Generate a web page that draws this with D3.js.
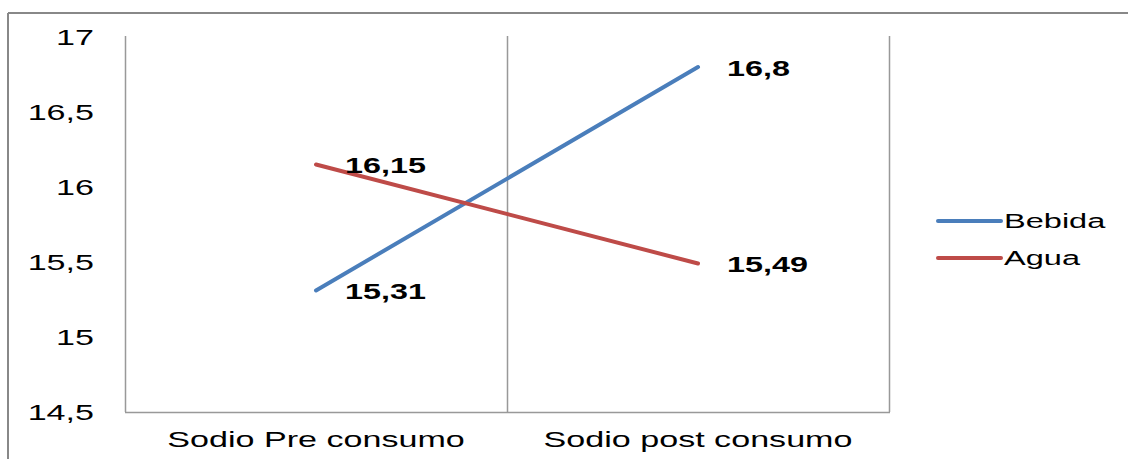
<!DOCTYPE html>
<html>
<head>
<meta charset="utf-8">
<script src="https://cdn.jsdelivr.net/npm/d3@7"></script>
<style>
html,body{margin:0;padding:0;background:#fff;}
svg{display:block;}
</style>
</head>
<body>
<svg id="chart" width="1128" height="459"></svg>
<script>
const categories = ["Sodio Pre consumo", "Sodio post consumo"];
const seriesNames = ["Bebida", "Agua"];
const bebidaValues = [15.31, 16.8];
const aguaValues = [16.15, 15.49];
const yTicks = [14.5, 15, 15.5, 16, 16.5, 17];
const yTickLabels = ["14,5", "15", "15,5", "16", "16,5", "17"];
const colors = ["#4a7ebb", "#be4b48"];

const FONT = "Liberation Sans, Arial, sans-serif";
const SX = 1.55;   // horizontal stretch of the reference text
const SXB = 1.47;

const svg = d3.select("#chart");
const W = 1128, H = 459;
const plot = {left: 125, right: 889, top: 37, bottom: 412};

// outer frame (top and left edges visible)
svg.append("line").attr("x1", 8).attr("x2", W).attr("y1", 13).attr("y2", 13)
  .attr("stroke", "#888").attr("stroke-width", 2);
svg.append("line").attr("x1", 8).attr("x2", 8).attr("y1", 13).attr("y2", H)
  .attr("stroke", "#888").attr("stroke-width", 2);

const x = d3.scaleBand().domain(categories).range([plot.left, plot.right]).padding(0);
const y = d3.scaleLinear().domain([14.5, 17]).range([plot.bottom, plot.top]);

// vertical category separators
const seps = [plot.left, ...categories.map(c => x(c) + x.bandwidth())];
svg.selectAll(".sep").data(seps).enter().append("line")
  .attr("x1", d => Math.round(d) + 0.5).attr("x2", d => Math.round(d) + 0.5)
  .attr("y1", plot.top - 1).attr("y2", plot.bottom)
  .attr("stroke", "#999").attr("stroke-width", 1.5);
svg.append("line").attr("x1", plot.left).attr("x2", plot.right + 1)
  .attr("y1", plot.bottom + 0.5).attr("y2", plot.bottom + 0.5)
  .attr("stroke", "#999").attr("stroke-width", 1.5);

// y axis labels
const yAxis = d3.axisLeft(y).tickValues(yTicks)
  .tickFormat((d, i) => yTickLabels[i]).tickSize(0).tickPadding(0);
const yg = svg.append("g").attr("transform", "translate(94,0)").call(yAxis);
yg.select(".domain").remove();
yg.selectAll("text").attr("font-family", FONT).attr("x", 0)
  .attr("font-size", 22).attr("fill", "#000").attr("dy", "0.35em")
  .attr("transform", `scale(${SX},1)`);

// x axis labels
const xAxis = d3.axisBottom(x).tickSize(0).tickPadding(0);
const xg = svg.append("g").attr("transform", `translate(0,${plot.bottom})`).call(xAxis);
xg.select(".domain").remove();
xg.selectAll("text").attr("font-family", FONT)
  .attr("font-size", 22).attr("fill", "#000").attr("y", 27).attr("dy", "0.35em")
  .attr("transform", `scale(${SX},1)`);

// lines
const series = [bebidaValues, aguaValues];
const line = d3.line().x((d, i) => x(categories[i]) + x.bandwidth() / 2).y(d => y(d));
series.forEach((vals, si) => {
  svg.append("path").datum(vals).attr("d", line)
    .attr("fill", "none").attr("stroke", colors[si]).attr("stroke-width", 4)
    .attr("stroke-linecap", "round");
});

// data labels
const fmt = v => String(v).replace(".", ",");
series.forEach((vals, si) => {
  svg.selectAll(".lbl" + si).data(vals).enter().append("g")
    .attr("transform", (d, i) => `translate(${x(categories[i]) + x.bandwidth() / 2 + 29},${y(d) + 1})`)
    .append("text")
    .attr("dy", "0.35em")
    .attr("transform", `scale(${SXB},1)`)
    .attr("font-family", FONT)
    .attr("font-size", 22).attr("font-weight", "bold").attr("fill", "#000")
    .text(d => fmt(d));
});

// legend
const legY = [221, 258];
seriesNames.forEach((n, i) => {
  svg.append("line").attr("x1", 938).attr("x2", 1001).attr("y1", legY[i]).attr("y2", legY[i])
    .attr("stroke", colors[i]).attr("stroke-width", 4).attr("stroke-linecap", "round");
  svg.append("g").attr("transform", `translate(1004,${legY[i]})`)
    .append("text").attr("dy", "0.35em").attr("transform", `scale(${SX},1)`)
    .attr("font-family", FONT).attr("font-size", 21)
    .attr("fill", "#000").text(n);
});
</script>
</body>
</html>
